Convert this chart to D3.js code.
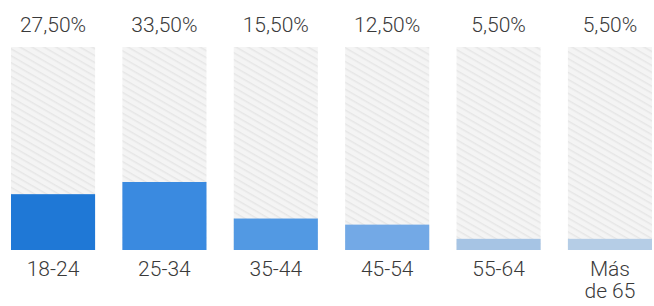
<!DOCTYPE html>
<html><head><meta charset="utf-8">
<script src="https://cdn.jsdelivr.net/npm/d3@7"></script>
<style>html,body{margin:0;padding:0;background:#fff;}svg{display:block;}</style>
</head><body>
<svg id="chart" width="654" height="306"></svg>
<script>
const categories = ["18-24", "25-34", "35-44", "45-54", "55-64", "Más de 65"];
const values = [27.5, 33.5, 15.5, 12.5, 5.5, 5.5];
const labels = ["27,50%", "33,50%", "15,50%", "12,50%", "5,50%", "5,50%"];
const colors = ["#1f78d6", "#3a8ae0", "#5299e3", "#73a9e6", "#a6c4e4", "#b5cde6"];

const svg = d3.select("#chart");
const x = d3.scaleBand().domain(categories).range([11, 652]).paddingInner(0.245).paddingOuter(0);
const y = d3.scaleLinear().domain([0, 100]).range([250, 47]);

const defs = svg.append("defs");
const pat = defs.append("pattern").attr("id", "hatch").attr("patternUnits", "userSpaceOnUse")
  .attr("width", 6).attr("height", 6).attr("patternTransform", "rotate(30)");
pat.append("rect").attr("width", 6).attr("height", 6).attr("fill", "#f4f4f4");
pat.append("rect").attr("width", 6).attr("height", 1.5).attr("fill", "#e6e6e6");

svg.selectAll("rect.bg").data(categories).join("rect").attr("class", "bg")
  .attr("x", d => x(d)).attr("width", x.bandwidth())
  .attr("y", y(100)).attr("height", y(0) - y(100)).attr("fill", "url(#hatch)");

svg.selectAll("rect.bar").data(values).join("rect").attr("class", "bar")
  .attr("x", (d, i) => x(categories[i])).attr("width", x.bandwidth())
  .attr("y", d => y(d)).attr("height", d => y(0) - y(d)).attr("fill", (d, i) => colors[i]);

svg.selectAll("text.val").data(labels).join("text").attr("class", "val")
  .attr("x", (d, i) => x(categories[i]) + x.bandwidth() / 2).attr("y", 32)
  .attr("text-anchor", "middle").attr("font-family", "Roboto").attr("font-weight", 300)
  .attr("font-size", 21).attr("fill", "#3a3a3a").text(d => d);

const cat = svg.selectAll("text.cat").data(categories).join("text").attr("class", "cat")
  .attr("x", d => x(d) + x.bandwidth() / 2).attr("y", 276)
  .attr("text-anchor", "middle").attr("font-family", "Roboto").attr("font-weight", 300)
  .attr("font-size", 21).attr("fill", "#3a3a3a");
cat.each(function(d) {
  const words = d === "Más de 65" ? ["Más", "de 65"] : [d];
  const t = d3.select(this);
  words.forEach((w, i) => t.append("tspan").attr("x", x(d) + x.bandwidth() / 2).attr("dy", i ? 22 : 0).text(w));
});
</script>
</body></html>
